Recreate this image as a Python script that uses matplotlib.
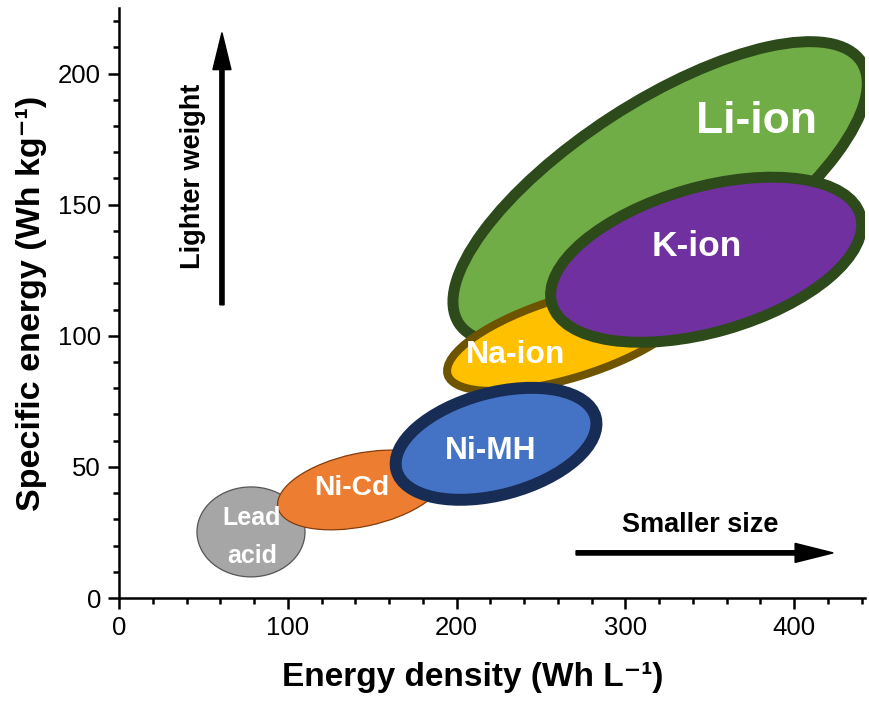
import matplotlib
matplotlib.use('Agg')
import matplotlib.pyplot as plt
from matplotlib.patches import Ellipse
from matplotlib.transforms import Affine2D

plt.rcParams['font.family'] = ['Liberation Sans', 'DejaVu Sans']

# ---- data (Wh/L, Wh/kg) ----
chemistries = ['Li-ion', 'Na-ion', 'K-ion', 'Lead acid', 'Ni-Cd', 'Ni-MH']
center_density = [320.6, 266.1, 347.9, 78.2, 143.4, 223.4]     # Wh/L
center_specific = [154.6, 99.2, 129.0, 25.2, 41.2, 58.8]       # Wh/kg
span_major = [284.4, 149.3, 190.2, 64.0, 100.7, 122.1]         # along major axis (Wh/L-equivalent)
span_minor = [106.7, 47.4, 85.9, 53.3, 43.3, 60.4]
tilt_deg = [33, 17, 16, 0, 12, 15]
fill_colors = ['#70ad47', '#ffc000', '#7030a0', '#a6a6a6', '#ed7d31', '#4472c4']
edge_colors = ['#2d4a1b', '#6f5400', '#2d4a1b', '#555555', '#843c0c', '#172d55']
edge_widths = [7.9, 5.8, 7.9, 0.9, 0.9, 8.6]

label_texts = ['Li-ion', 'Na-ion', 'K-ion', 'Lead\nacid', 'Ni-Cd', 'Ni-MH']
label_x = [378.0, 234.7, 342.5, 78.8, 138.0, 220.4]
label_y = [181.7, 92.7, 134.0, 23.3, 42.0, 56.1]
label_sizes = [32, 23, 25.5, 18, 20.3, 22.8]

x_ticks = [0, 100, 200, 300, 400]
y_ticks = [0, 50, 100, 150, 200]
xlim = (0, 442)
ylim = (0, 225)

W, H = 869, 704
fig = plt.figure(figsize=(W / 100, H / 100), dpi=100)
left, bottom = 119 / W, 1 - 598 / H
width, height = 746 / W, 590 / H
ax = fig.add_axes([left, bottom, width, height])
ax.set_xlim(*xlim)
ax.set_ylim(*ylim)

# ratio between pixel scale of y and x so ellipses keep their visual shape
k = (height * H / (ylim[1] - ylim[0])) / (width * W / (xlim[1] - xlim[0]))
tr = Affine2D().scale(1, 1 / k) + ax.transData

for i in range(len(chemistries)):
    e = Ellipse((center_density[i], center_specific[i] * k), span_major[i], span_minor[i],
                angle=tilt_deg[i], facecolor=fill_colors[i], edgecolor=edge_colors[i],
                linewidth=edge_widths[i], transform=tr, zorder=2 + i)
    ax.add_patch(e)
    ax.text(label_x[i], label_y[i], label_texts[i], color='white', fontsize=label_sizes[i],
            fontweight='bold', ha='center', va='center', zorder=20,
            linespacing=1.7)

# arrows
ax.arrow(61, 111.8, 0, 215.6 - 111.8, width=2.5, head_width=10.7, head_length=14.1,
         length_includes_head=True, color='black', zorder=25, clip_on=False)
ax.arrow(270.8, 17.2, 423.1 - 270.8, 0, width=1.64, head_width=7.25, head_length=22.5,
         length_includes_head=True, color='black', zorder=25, clip_on=False)
ax.text(43.9, 161, 'Lighter weight', rotation=90, fontsize=19.5, fontweight='bold',
        ha='center', va='center', zorder=25)
ax.text(344.3, 27.9, 'Smaller size', fontsize=19.5, fontweight='bold',
        ha='center', va='center', zorder=25)

# axes styling
for s in ['top', 'right']:
    ax.spines[s].set_visible(False)
for s in ['left', 'bottom']:
    ax.spines[s].set_linewidth(1.8)
ax.set_xticks(x_ticks)
ax.set_yticks(y_ticks)
ax.set_xticks(range(0, 441, 20), minor=True)
ax.set_yticks(range(0, 221, 10), minor=True)
ax.tick_params(which='major', direction='out', length=8, width=1.8, labelsize=18.5, pad=5)
ax.tick_params(which='minor', direction='out', length=4.5, width=1.8)
ax.set_xlabel('Energy density (Wh L\u207b\u00b9)', fontsize=24, fontweight='bold')
ax.set_ylabel('Specific energy (Wh kg\u207b\u00b9)', fontsize=24.5, fontweight='bold', labelpad=8)
ax.xaxis.set_label_coords(0.4745, -0.108)

fig.savefig('out.png', dpi=100)
